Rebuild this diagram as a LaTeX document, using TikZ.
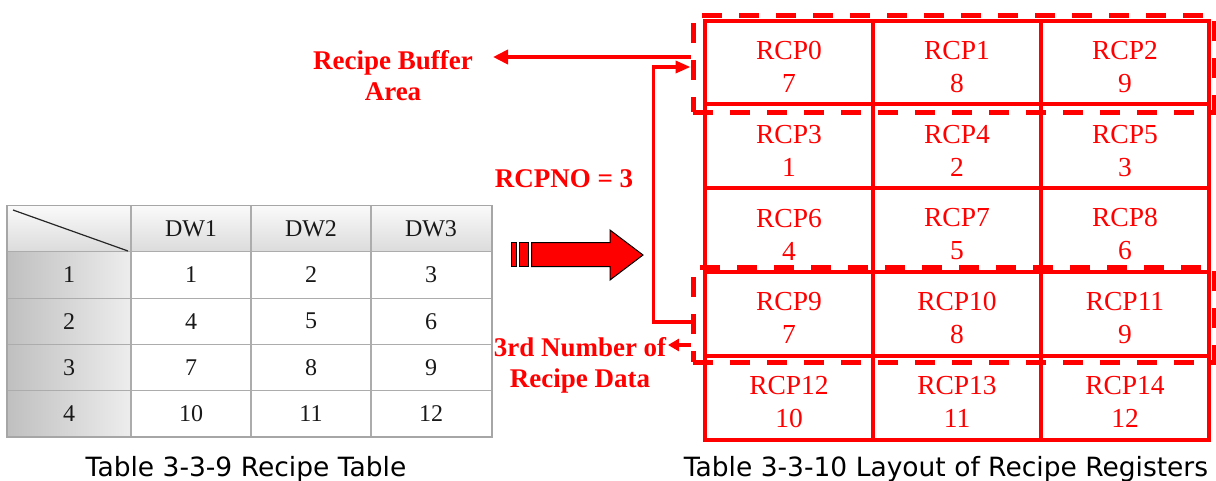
\documentclass[tikz,border=0pt]{standalone}
\usepackage{fontspec}
\setmainfont{Liberation Serif}
\newfontfamily\capfont{DejaVu Sans}
\usetikzlibrary{arrows.meta}

\begin{document}
\begin{tikzpicture}[x=1pt, y=-1pt,
    regcell/.style={draw=red, line width=4pt, minimum width=168pt, minimum height=83.8pt,
      inner sep=0pt, align=center, text=red, font=\rmfamily\fontsize{27.5}{33}\selectfont},
    areabox/.style={draw=red, line width=5pt, dash pattern=on 20pt off 17pt,
      minimum width=521pt, inner sep=0pt},
    redlbl/.style={text=red, align=center, font=\rmfamily\fontsize{27}{31}\selectfont\bfseries},
    tabnum/.style={text=black!90, font=\rmfamily\fontsize{24}{24}\selectfont},
    capt/.style={font=\capfont\fontsize{26.5}{30}\selectfont, anchor=base},
    link/.style={draw=red, line width=3.5pt},
    bigarrow/.style={fill=red, draw=black, line width=1pt}]
      \useasboundingbox (0,0) rectangle (1216,480);
      % tabla de recetas
      \shade[top color=gray!4, bottom color=gray!28] (7,205.5) rectangle (492,251.8);
      \foreach \r in {0,...,3}
        \shade[left color=gray!50, right color=gray!14] (7,251.8+46.3*\r) rectangle (131,298.1+46.3*\r);
      \foreach \xx in {131,251,371}
        \draw[gray!65, line width=1.2pt] (\xx,205.5) -- (\xx,437);
      \foreach \r in {1,...,4}
        \draw[gray!65, line width=1.2pt] (7,205.5+46.3*\r) -- (492,205.5+46.3*\r);
      \draw[gray!70, line width=1.6pt] (7,205.5) rectangle (492,437);
      \draw[black!85, line width=1.2pt] (13,210) -- (128,251);
      \foreach \c/\t [count=\k] in {191/DW1, 311/DW2, 431/DW3}
        \node[tabnum] (dw\k) at (\c,229) {\t};
      \foreach \r in {1,...,4} {
        \node[tabnum] (no\r) at (69,228.6+46.3*\r) {\r};
        \foreach \c in {1,2,3} {
          \pgfmathtruncatemacro\val{3*(\r-1)+\c}
          \node[tabnum] (t\r\c) at (71+120*\c,228.6+46.3*\r) {\val};
        }
      }
      % flecha grande
      \filldraw[bigarrow] (511.7,242.7) rectangle (516.7,266.7);
      \filldraw[bigarrow] (519.3,242.7) rectangle (528.3,266.7);
      \filldraw[bigarrow] (531.7,242.7) -- (610,242.7) -- (610,230) -- (643,255)
        -- (610,280) -- (610,266.7) -- (531.7,266.7) -- cycle;
      % registros de receta
      \foreach \v [count=\i from 0] in {7,8,9,1,2,3,4,5,6,7,8,9,10,11,12} {
        \pgfmathtruncatemacro\col{mod(\i,3)}
        \pgfmathtruncatemacro\row{div(\i,3)}
        \node[regcell] (rcp\i) at (789+168*\col,62.5+83.8*\row) {\rule{0pt}{27pt}RCP\i\\\v};
      }
      % zonas marcadas
      \node[areabox, minimum height=97pt] (bufbox) at (953.5,63.5) {};
      \node[areabox, minimum height=95pt] (datbox) at (953.5,314.5) {};
      % textos
      \node[redlbl] (buflbl) at (393,76) {Recipe Buffer\\Area};
      \node[redlbl, anchor=base] (nolbl) at (564,187) {RCPNO = 3};
      \node[redlbl] (datlbl) at (580,365) {3rd Number of\\Recipe Data};
      \coordinate (bufend) at (493,57);
      \coordinate (datend) at (668,345);
      \draw[link, line width=4pt, -{Triangle[length=15pt,width=14pt]}] ([yshift=6.5pt]bufbox.west) -- (bufend);
      \draw[link, -{Triangle[length=15pt,width=12pt]}] ([yshift=-7.5pt]datbox.west) -- ++(-37,0)
        |- ([yshift=-3.5pt]bufbox.west);
      \draw[link, -{Triangle[length=11pt,width=12pt]}] ([yshift=-30.5pt]datbox.west) -- (datend);
      % titulos
      \node[capt] (cap1) at (246,476) {Table 3-3-9 Recipe Table};
      \node[capt] (cap2) at (946,476) {Table 3-3-10 Layout of Recipe Registers};
\end{tikzpicture}
\end{document}
